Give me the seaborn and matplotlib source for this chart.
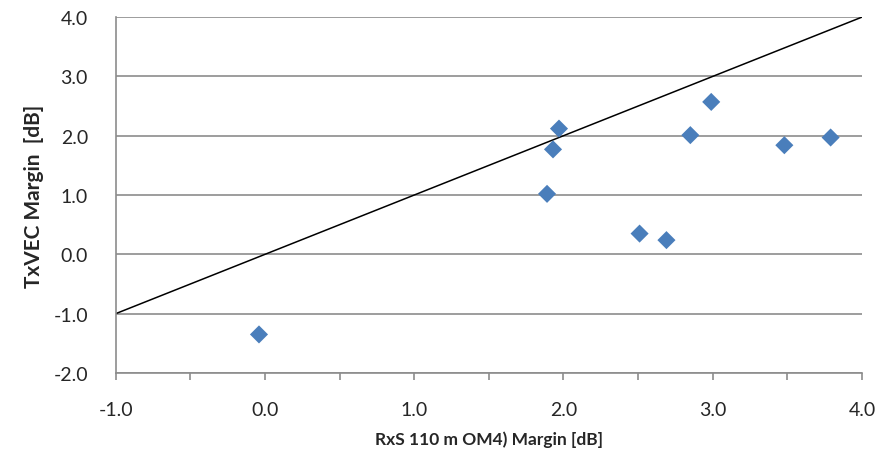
import matplotlib
matplotlib.use("Agg")
import matplotlib.pyplot as plt
import seaborn as sns
import pandas as pd
import numpy as np

# margins
rxs_margin = [-0.04, 1.89, 1.93, 1.97, 2.51, 2.69, 2.85, 2.99, 3.48, 3.79]
txvec_margin = [-1.35, 1.02, 1.77, 2.12, 0.35, 0.24, 2.01, 2.57, 1.84, 1.97]
ref_line = [-1.0, 4.0]

df = pd.DataFrame({"rxs": rxs_margin, "txvec": txvec_margin})

sns.set_style("white")
plt.rcParams["font.family"] = ["Lato", "DejaVu Sans"]

fig = plt.figure(figsize=(8.9, 4.64), dpi=100)
ax = fig.add_axes([0.130, 0.194, 0.8385, 0.767])

ax.plot(ref_line, ref_line, color="black", lw=1.1, zorder=2)
sns.scatterplot(data=df, x="rxs", y="txvec", marker="D", s=85,
                color="#4A7EBB", edgecolor="none", ax=ax, zorder=3)

ax.set_xlim(-1, 4)
ax.set_ylim(-2, 4)
ax.set_xticks(np.arange(-1, 4.01, 1.0))
ax.set_xticks(np.arange(-0.5, 4, 1.0), minor=True)
ax.set_yticks(np.arange(-2, 4.01, 1.0))
ax.xaxis.set_major_formatter(matplotlib.ticker.FormatStrFormatter("%.1f"))
ax.yaxis.set_major_formatter(matplotlib.ticker.FormatStrFormatter("%.1f"))

ax.grid(axis="y", color="#8C8C8C", lw=1.2)
ax.grid(axis="x", visible=False)
ax.set_axisbelow(True)

for side in ["top", "right"]:
    ax.spines[side].set_visible(False)
for side in ["left", "bottom"]:
    ax.spines[side].set_color("#8C8C8C")
    ax.spines[side].set_linewidth(1.2)

ax.tick_params(axis="x", which="both", direction="out", length=5, width=1.2,
               color="#8C8C8C", bottom=True, labelsize=14, pad=15,
               labelcolor="#262626")
ax.tick_params(axis="y", which="both", length=0, labelsize=14, pad=20,
               labelcolor="#262626")

ax.set_xlabel("RxS 110 m OM4) Margin [dB]", fontsize=12.5, fontweight="bold",
              labelpad=9)
ax.set_ylabel("TxVEC Margin  [dB]", fontsize=15, fontweight="bold",
              labelpad=7)

fig.savefig("out.png", dpi=100)
